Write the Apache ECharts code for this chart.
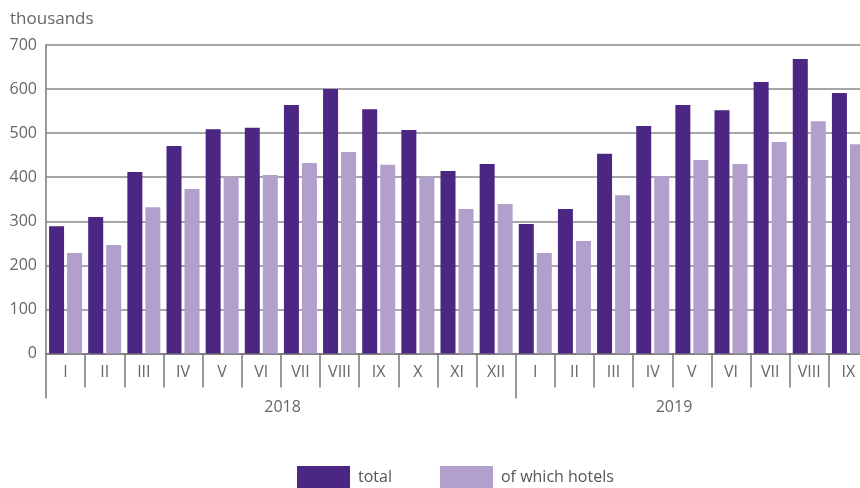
<!DOCTYPE html>
<html>
<head>
<meta charset="utf-8">
<script src="https://cdn.jsdelivr.net/npm/echarts@6/dist/echarts.min.js"></script>
<style>
  html, body { margin: 0; padding: 0; background: #fff; overflow: hidden; }
  /* the last category runs past the right edge in the original */
  #chart { width: 868px; height: 488px; }
</style>
</head>
<body>
<div id="chart"></div>
<script>
// months per year, shown on the lower axis
var years = ['2018', '2019'];
var monthsPerYear = [12, 9];
var monthNames = ['I', 'II', 'III', 'IV', 'V', 'VI', 'VII', 'VIII', 'IX', 'X', 'XI', 'XII'];

// thousands
var total = [289, 310, 412, 471, 509, 512, 564, 600, 554, 507, 414, 430,
             294, 328, 453, 516, 564, 552, 616, 668, 591];
var hotels = [228, 246, 332, 373, 400, 405, 432, 457, 428, 400, 328, 339,
              228, 255, 359, 403, 439, 430, 480, 527, 475];

var yTicks = [0, 100, 200, 300, 400, 500, 600, 700];

// build category keys (unique) + year label row
var cats = [];
var yearRow = [];
var yearStarts = [];
years.forEach(function (y, i) {
  yearStarts.push(cats.length);
  for (var m = 0; m < monthsPerYear[i]; m++) {
    cats.push(y + '-' + monthNames[m]);
    yearRow.push(m === Math.floor(monthsPerYear[i] / 2) - 1 ? y : '');
  }
});

var txt = '#666';
var font = '"Open Sans", "Noto Sans", sans-serif';

var chart = echarts.init(document.getElementById('chart'));
chart.setOption({
  animation: false,
  textStyle: { fontFamily: font },
  grid: { left: 46, top: 45, width: 822, height: 308.5 },
  legend: {
    bottom: 0,
    left: 297,
    padding: 0,
    itemWidth: 53,
    itemHeight: 22,
    itemGap: 48,
    icon: 'rect',
    textStyle: { color: '#555', fontSize: 16, fontFamily: font, padding: [0, 0, 0, 3] },
    data: ['total', 'of which hotels']
  },
  xAxis: [
    {
      type: 'category',
      data: cats,
      axisLine: { show: true, lineStyle: { color: '#777', width: 1.5 } },
      axisTick: { show: true, interval: 0, length: 34, lineStyle: { color: '#777', width: 1.5 } },
      axisLabel: {
        interval: 0, margin: 11, color: txt, fontSize: 16, fontFamily: font,
        formatter: function (v) { return v.split('-')[1]; }
      }
    },
    {
      type: 'category',
      data: cats,
      position: 'bottom',
      axisLine: { show: false },
      axisTick: {
        show: true, length: 45,
        interval: function (i) { return yearStarts.indexOf(i) >= 0; },
        lineStyle: { color: '#777', width: 1.5 }
      },
      axisLabel: {
        interval: 0, margin: 46, color: txt, fontSize: 16, fontFamily: font, align: 'left',
        padding: [0, 0, 0, 3],
        formatter: function (v, i) { return yearRow[i]; }
      }
    }
  ],
  yAxis: {
    type: 'value',
    min: yTicks[0],
    max: yTicks[yTicks.length - 1],
    interval: 100,
    name: 'thousands',
    nameLocation: 'end',
    nameGap: 17,
    nameTextStyle: { color: txt, fontSize: 17, fontFamily: font, align: 'left', padding: [0, 0, 0, -36] },
    axisLine: { show: true, lineStyle: { color: '#777', width: 1.5 } },
    axisTick: { show: false },
    axisLabel: { color: txt, fontSize: 16, fontFamily: font, margin: 9 },
    splitLine: { lineStyle: { color: '#8a8a8a', width: 1.5 } }
  },
  series: [
    {
      name: 'total', type: 'bar', data: total,
      barWidth: 15, barGap: '20%',
      itemStyle: { color: '#4b2683' }
    },
    {
      name: 'of which hotels', type: 'bar', data: hotels,
      barWidth: 15,
      itemStyle: { color: '#b1a0cc' }
    }
  ]
});
</script>
</body>
</html>
